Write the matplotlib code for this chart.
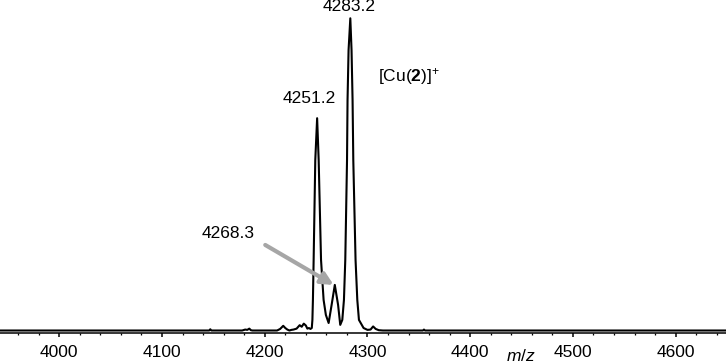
import matplotlib
matplotlib.use("Agg")
import matplotlib.pyplot as plt
from matplotlib.ticker import MultipleLocator
from matplotlib.transforms import blended_transform_factory

plt.rcParams['font.family'] = ['Liberation Sans', 'DejaVu Sans']
plt.rcParams['mathtext.fontset'] = 'custom'
plt.rcParams['mathtext.rm'] = 'Liberation Sans'
plt.rcParams['mathtext.it'] = 'Liberation Sans:italic'
plt.rcParams['mathtext.bf'] = 'Liberation Sans:bold'

# spectrum trace (m/z, relative intensity %)
mz = [3940, 4146, 4147, 4148, 4178, 4181, 4183, 4185, 4186.5, 4188,
      4212, 4215, 4218, 4220, 4222, 4224, 4226, 4228, 4231, 4234, 4236,
      4238, 4240, 4241.5, 4243, 4244.5,
      4245.8, 4246.4, 4246.9, 4247.6, 4249.2, 4251.0, 4252.5, 4254.8,
      4257.3, 4259.5, 4262.2,
      4265.1, 4268.2, 4271.4, 4273.5,
      4275.5, 4277.1, 4278.4, 4280.1, 4280.6, 4281.6, 4283.3,
      4284.5, 4285.5, 4286.2, 4288.4, 4290.1, 4291.7, 4296.2,
      4300, 4303, 4305.5, 4308, 4311, 4315, 4354, 4355, 4356, 4650]
intensity = [0, 0, 0.4, 0, 0, 0.3, 0.2, 0.6, 0.1, 0,
             0, 0.5, 1.5, 0.8, 0.3, 0.0, 0.2, 0.3, 0.6, 1.7, 1.2,
             2.2, 1.6, 0.6, 0.8, 0.5,
             0.8, 3.4, 9.8, 22.6, 54.6, 68.0, 54.6, 22.6,
             9.8, 5.0, 2.4,
             8.2, 14.6, 8.2, 1.8,
             3.4, 9.8, 22.6, 54.6, 73.8, 89.8, 100.0,
             89.8, 73.8, 54.6, 22.6, 9.8, 3.4, 0.8,
             0.2, 0.3, 1.3, 0.5, 0.1, 0, 0, 0.3, 0, 0]

xticks = [4000, 4100, 4200, 4300, 4400, 4500, 4600]
peak_labels = ["4251.2", "4268.3", "4283.2"]

fig = plt.figure(figsize=(7.26, 3.63), dpi=100)
ax = fig.add_axes([0, 30 / 363, 1, 333 / 363])
ax.plot(mz, intensity, color='black', lw=1.5, solid_joinstyle='round')

ax.set_xlim(3942.3, 4649.0)
ax.set_ylim(-0.80, 105.86)
for s in ['left', 'right', 'top']:
    ax.spines[s].set_visible(False)
ax.spines['bottom'].set_linewidth(1.1)
ax.set_yticks([])
ax.set_xticks(xticks)
ax.set_xticklabels([str(t) for t in xticks])
ax.xaxis.set_minor_locator(MultipleLocator(20))
ax.tick_params(axis='x', which='major', direction='out', length=2.6, width=1.1,
               pad=6, labelsize=12.5, colors='black')
ax.tick_params(axis='x', which='minor', direction='out', length=1.6, width=0.9)

ax.text(4282.5, 103.9, peak_labels[2], ha='center', va='center', fontsize=12.5)
ax.text(4243.4, 74.2, peak_labels[0], ha='center', va='center', fontsize=12.5)
ax.text(4164.4, 31.1, peak_labels[1], ha='center', va='center', fontsize=12.5)
ax.text(4310.5, 81.5, r'[Cu($\mathbf{2}$)]$^{+}$', ha='left', va='center', fontsize=12.5)

ax.annotate('', xy=(4267.1, 14.6), xytext=(4200.5, 27.4),
            arrowprops=dict(arrowstyle='-|>', color='#a6a6a6', lw=3,
                            mutation_scale=18, shrinkA=0, shrinkB=0))

tr = blended_transform_factory(ax.transData, fig.transFigure)
ax.text(4449.6, 1 - 356 / 363, r'$m/z$', transform=tr, ha='center', va='center',
        fontsize=12.5, clip_on=False)

fig.savefig('out.png', dpi=100)
